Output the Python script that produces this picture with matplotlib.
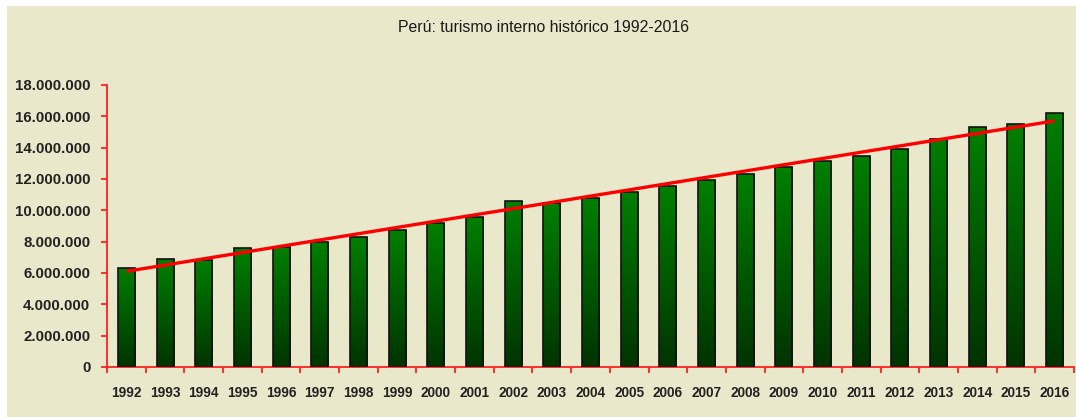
import numpy as np
import matplotlib
matplotlib.use('Agg')
import matplotlib.pyplot as plt
from matplotlib.patches import Rectangle
from matplotlib.ticker import FuncFormatter

# Datos: turismo interno en Perú 1992-2016
years = [str(y) for y in range(1992, 2017)]
visitors = [6.32e6, 6.91e6, 6.83e6, 7.57e6, 7.68e6, 7.96e6, 8.32e6, 8.74e6,
            9.17e6, 9.59e6, 10.61e6, 10.44e6, 10.76e6, 11.17e6, 11.57e6,
            11.93e6, 12.32e6, 12.74e6, 13.13e6, 13.47e6, 13.89e6, 14.57e6,
            15.32e6, 15.51e6, 16.19e6]
title = 'Perú: turismo interno histórico 1992-2016'

beige = '#eae8cb'
plt.rcParams['font.family'] = ['Liberation Sans', 'DejaVu Sans']

fig = plt.figure(figsize=(10.76, 4.17), dpi=100, facecolor='white')
# fondo beige con un borde blanco arriba e izquierda
fig.patches.append(Rectangle((7 / 1076, 0), 1, 1 - 6 / 417, transform=fig.transFigure,
                             facecolor=beige, edgecolor='none', zorder=-10))

ax = fig.add_axes([107 / 1076, 1 - 367 / 417, 967 / 1076, 282 / 417])
ax.patch.set_alpha(0)

x = np.arange(len(years))
bars = ax.bar(x, visitors, width=0.44, color='none', edgecolor='#111111',
              linewidth=1.2, zorder=3)

# degradado verde en cada barra
grad = np.linspace(0, 1, 256).reshape(-1, 1)
cmap = matplotlib.colors.LinearSegmentedColormap.from_list('g', ['#003300', '#008000'])
for b in bars:
    x0, w, h = b.get_x(), b.get_width(), b.get_height()
    im = ax.imshow(grad, cmap=cmap, aspect='auto', origin='lower',
                   extent=[x0, x0 + w, 0, h], zorder=2)
    im.set_clip_path(b)

# línea de tendencia
coef = np.polyfit(x, visitors, 1)
ax.plot(x, np.polyval(coef, x), color='#ff0000', linewidth=2.4, zorder=4,
        solid_capstyle='butt')

ax.set_xlim(-0.5, len(years) - 0.5)
ax.set_ylim(0, 18e6)
ax.set_yticks(np.arange(0, 18e6 + 1, 2e6))
ax.yaxis.set_major_formatter(FuncFormatter(lambda v, p: f'{int(v):,}'.replace(',', '.')))
ax.set_xticks(x)
ax.set_xticklabels(years)
ax.set_xticks(np.arange(-0.5, len(years)), minor=True)

for s in ['top', 'right']:
    ax.spines[s].set_visible(False)
for s in ['left', 'bottom']:
    ax.spines[s].set_color('#ff2020')
    ax.spines[s].set_linewidth(1.3)

ax.tick_params(axis='y', colors='#ff2020', labelcolor='#222222', length=4, width=1.3,
               labelsize=10.8, pad=8)
ax.tick_params(axis='x', which='major', length=0, labelsize=9.8, labelcolor='#222222', pad=14)
ax.tick_params(axis='x', which='minor', colors='#ff2020', length=4, width=1.3)
for lab in ax.get_xticklabels() + ax.get_yticklabels():
    lab.set_fontweight('bold')

fig.text(543 / 1076, 1 - 28 / 417, title, ha='center', va='center', fontsize=11.4,
         color='#1a1a1a')

fig.savefig('out.png', dpi=100, facecolor='white')
